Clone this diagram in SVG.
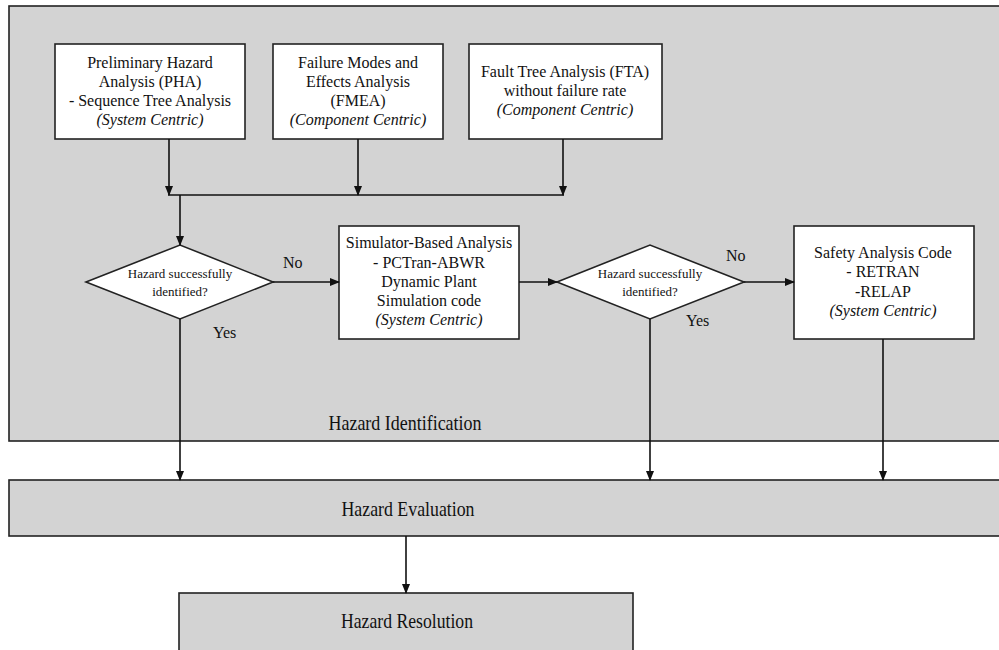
<svg xmlns="http://www.w3.org/2000/svg" width="999" height="650" viewBox="0 0 999 650">
<style>
.bg{fill:#d3d3d3;stroke:#222;stroke-width:1.6}
.box{fill:#fff;stroke:#222;stroke-width:1.6}
.t{font-family:"Liberation Serif","Times New Roman",serif;font-size:16px;fill:#111;text-anchor:middle}
.i{font-style:italic}
.s{font-size:13px}
.big{font-size:22px}
.lab{font-family:"Liberation Serif","Times New Roman",serif;font-size:16px;fill:#111}
.c{fill:none;stroke:#111;stroke-width:1.6}
</style>
<defs>
<marker id="ah" markerWidth="10" markerHeight="8" refX="9" refY="4" orient="auto" markerUnits="userSpaceOnUse">
<path d="M0,0 L10,4 L0,8 Z" fill="#111"/>
</marker>
</defs>
<g id="hazard-identification">
<rect class="bg" x="9" y="6" width="1000" height="435"/>
<text class="t big" x="405" y="430" textLength="153" lengthAdjust="spacingAndGlyphs">Hazard Identification</text>
</g>
<g id="pha">
<rect class="box" x="55" y="44" width="190" height="95"/>
<text class="t" x="150" y="68">Preliminary Hazard</text>
<text class="t" x="150" y="87">Analysis (PHA)</text>
<text class="t" x="150" y="106">- Sequence Tree Analysis</text>
<text class="t i" x="150" y="125">(System Centric)</text>
</g>
<g id="fmea">
<rect class="box" x="273" y="44" width="170" height="95"/>
<text class="t" x="358" y="68">Failure Modes and</text>
<text class="t" x="358" y="87">Effects Analysis</text>
<text class="t" x="358" y="106">(FMEA)</text>
<text class="t i" x="358" y="125">(Component Centric)</text>
</g>
<g id="fta">
<rect class="box" x="469" y="44" width="193" height="95"/>
<text class="t" x="565" y="77">Fault Tree Analysis (FTA)</text>
<text class="t" x="565" y="96">without failure rate</text>
<text class="t i" x="565" y="115">(Component Centric)</text>
</g>
<g id="decision1">
<polygon class="box" points="86,282 180,245 273,282 180,319"/>
<text class="t s" x="180" y="278">Hazard successfully</text>
<text class="t s" x="180" y="296">identified?</text>
</g>
<g id="simulator">
<rect class="box" x="339" y="226" width="180" height="113"/>
<text class="t" x="429" y="248">Simulator-Based Analysis</text>
<text class="t" x="429" y="268">- PCTran-ABWR</text>
<text class="t" x="429" y="287">Dynamic Plant</text>
<text class="t" x="429" y="306">Simulation code</text>
<text class="t i" x="429" y="325">(System Centric)</text>
</g>
<g id="decision2">
<polygon class="box" points="557,282 650,245 744,282 650,319"/>
<text class="t s" x="650" y="278">Hazard successfully</text>
<text class="t s" x="650" y="296">identified?</text>
</g>
<g id="safety-code">
<rect class="box" x="794" y="226" width="180" height="113"/>
<text class="t" x="883" y="258">Safety Analysis Code</text>
<text class="t" x="883" y="277">- RETRAN</text>
<text class="t" x="883" y="297">-RELAP</text>
<text class="t i" x="883" y="316">(System Centric)</text>
</g>
<g id="hazard-evaluation">
<rect class="bg" x="9" y="480" width="1000" height="56"/>
<text class="t big" x="408" y="516" textLength="133" lengthAdjust="spacingAndGlyphs">Hazard Evaluation</text>
</g>
<g id="hazard-resolution">
<rect class="bg" x="179" y="593" width="454" height="58"/>
<text class="t big" x="407" y="628" textLength="132" lengthAdjust="spacingAndGlyphs">Hazard Resolution</text>
</g>
<g id="connectors">
<line class="c" x1="169" y1="139" x2="169" y2="195" marker-end="url(#ah)"/>
<line class="c" x1="358" y1="139" x2="358" y2="195" marker-end="url(#ah)"/>
<line class="c" x1="563" y1="139" x2="563" y2="195" marker-end="url(#ah)"/>
<line class="c" x1="168" y1="195" x2="564" y2="195"/>
<line class="c" x1="180" y1="195" x2="180" y2="245" marker-end="url(#ah)"/>
<line class="c" x1="273" y1="282" x2="339" y2="282" marker-end="url(#ah)"/>
<line class="c" x1="519" y1="282" x2="557" y2="282" marker-end="url(#ah)"/>
<line class="c" x1="744" y1="282" x2="794" y2="282" marker-end="url(#ah)"/>
<line class="c" x1="180" y1="319" x2="180" y2="480" marker-end="url(#ah)"/>
<line class="c" x1="650" y1="319" x2="650" y2="480" marker-end="url(#ah)"/>
<line class="c" x1="883" y1="339" x2="883" y2="480" marker-end="url(#ah)"/>
<line class="c" x1="406" y1="536" x2="406" y2="593" marker-end="url(#ah)"/>
<text class="lab" x="283" y="268">No</text>
<text class="lab" x="213" y="338">Yes</text>
<text class="lab" x="726" y="261">No</text>
<text class="lab" x="686" y="326">Yes</text>
</g>
</svg>
